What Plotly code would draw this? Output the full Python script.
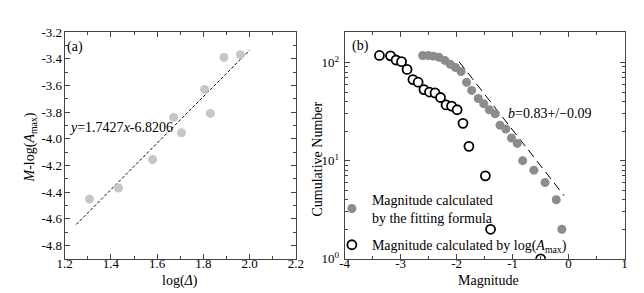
import plotly.graph_objects as go

# Panel (a)
log_delta = [1.307, 1.433, 1.58, 1.671, 1.705, 1.805, 1.83, 1.889, 1.96]
m_log_amax = [-4.452, -4.369, -4.155, -3.84, -3.955, -3.63, -3.81, -3.39, -3.37]
fit_a_x = [1.25, 2.0]
fit_slope, fit_icpt = 1.7427, -6.8206
xa_ticks = [1.2, 1.4, 1.6, 1.8, 2.0, 2.2]
xa_labels = ["1.2", "1.4", "1.6", "1.8", "2.0", "2.2"]
ya_ticks = [-3.2, -3.4, -3.6, -3.8, -4.0, -4.2, -4.4, -4.6, -4.8]
ya_labels = ["-3.2", "-3.4", "-3.6", "-3.8", "-4.0", "-4.2", "-4.4", "-4.6", "-4.8"]

# Panel (b)
mag_fit = [-2.606, -2.507, -2.415, -2.316, -2.21, -2.114, -2.02, -1.92, -1.822, -1.73,
           -1.613, -1.515, -1.416, -1.31, -1.225, -1.12, -1.02, -0.916, -0.82, -0.62,
           -0.42, -0.22, -0.12]
cum_fit = [118, 118, 116, 113, 105, 96, 89, 81, 63, 52, 43, 38, 33, 30, 23, 21, 17, 15,
           10, 8, 6, 4, 2]
mag_amax = [-3.378, -3.18, -3.082, -2.983, -2.885, -2.78, -2.687, -2.583, -2.484, -2.385,
            -2.287, -2.188, -2.09, -1.99, -1.886, -1.78, -1.486, -1.393, -0.498]
cum_amax = [118, 117, 106, 102, 85, 67, 63, 53, 50, 49, 44, 37, 36, 33, 24, 14, 7, 2, 1]
bline_x = [-1.954, -0.08]
bline_y = [101.6, 4.4]
xb_ticks = [-4, -3, -2, -1, 0, 1]
xb_labels = ["-4", "-3", "-2", "-1", "0", "1"]
yb_ticks = [1, 10, 100]
yb_labels = ["10<sup>0</sup>", "10<sup>1</sup>", "10<sup>2</sup>"]

FONT = "Liberation Serif, Times New Roman, DejaVu Serif, serif"
FS = 14
TFS = 13

fig = go.Figure()

fig.add_trace(go.Scatter(x=fit_a_x, y=[fit_slope * v + fit_icpt for v in fit_a_x],
                         mode="lines", line=dict(color="black", width=1, dash="3px,2px"),
                         showlegend=False, xaxis="x", yaxis="y"))
fig.add_trace(go.Scatter(x=log_delta, y=m_log_amax, mode="markers",
                         marker=dict(color="#c6c6c6", size=9), showlegend=False,
                         xaxis="x", yaxis="y"))

fig.add_trace(go.Scatter(x=bline_x, y=bline_y, mode="lines",
                         line=dict(color="black", width=1, dash="9px,5px"),
                         showlegend=False, xaxis="x2", yaxis="y2"))
fig.add_trace(go.Scatter(x=mag_fit, y=cum_fit, mode="markers",
                         marker=dict(color="#8c8c8c", size=9),
                         name="Magnitude calculated<br>by the fitting formula",
                         legendgroup="g1",
                         xaxis="x2", yaxis="y2"))
fig.add_trace(go.Scatter(x=mag_amax, y=cum_amax, mode="markers",
                         marker=dict(color="white", size=9, symbol="circle",
                                     line=dict(color="black", width=1.8)),
                         name="Magnitude calculated by log(<i>A</i><sub>max</sub>)",
                         legendgroup="g2",
                         xaxis="x2", yaxis="y2"))

axis_common = dict(showgrid=False, zeroline=False, showline=True, linecolor="#444",
                   linewidth=1, mirror="allticks", ticks="inside", ticklen=5,
                   tickcolor="#444", tickfont=dict(family=FONT, size=TFS, color="black"))

fig.update_layout(
    width=644, height=293,
    margin=dict(l=0, r=0, t=0, b=0),
    paper_bgcolor="white", plot_bgcolor="white",
    font=dict(family=FONT, size=FS, color="black"),
    xaxis=dict(domain=[0.0776, 0.4457], range=[1.2, 2.2],
               tickvals=xa_ticks, ticktext=xa_labels, ticklabelstandoff=-7,
               minor=dict(ticks="inside", ticklen=3, dtick=0.1, tickcolor="#444"),
               anchor="y", **axis_common),
    yaxis=dict(domain=[0.1229, 0.9386], range=[-4.9, -3.2],
               tickvals=ya_ticks, ticktext=ya_labels, ticklabelstandoff=-1,
               minor=dict(ticks="inside", ticklen=3, dtick=0.1, tick0=-3.2, tickcolor="#444"),
               anchor="x", **axis_common),
    xaxis2=dict(domain=[0.5233, 0.969], range=[-4, 1],
                tickvals=xb_ticks, ticktext=xb_labels, ticklabelstandoff=-7,
                minor=dict(ticks="inside", ticklen=3, dtick=0.5, tick0=-4, tickcolor="#444"),
                anchor="y2", **axis_common),
    yaxis2=dict(domain=[0.1229, 0.9386], type="log", range=[0, 2.31],
                tickvals=yb_ticks, ticktext=yb_labels, ticklabelstandoff=2,
                minor=dict(ticks="inside", ticklen=3, tickcolor="#444",
                           tickvals=[2, 3, 4, 5, 6, 7, 8, 9, 20, 30, 40, 50, 60, 70, 80, 90, 200]),
                anchor="x2", **axis_common),
    legend=dict(x=0.503, y=0.393, xanchor="left", yanchor="top",
                bgcolor="rgba(0,0,0,0)", font=dict(family=FONT, size=FS),
                itemwidth=30, traceorder="grouped", tracegroupgap=6),
    annotations=[
        # axis titles
        dict(text="log(<i>Δ</i>)", x=168 / 644, y=1 - 280 / 293, xref="paper", yref="paper",
             showarrow=False, xanchor="center", yanchor="middle", font=dict(family=FONT, size=FS)),
        dict(text="<i>M</i>-log(<i>A</i><sub>max</sub>)", x=15 / 644, y=1 - 140 / 293,
             xref="paper", yref="paper", textangle=-90, showarrow=False,
             xanchor="center", yanchor="middle", font=dict(family=FONT, size=FS)),
        dict(text="Magnitude", x=485 / 644, y=1 - 280 / 293, xref="paper", yref="paper",
             showarrow=False, xanchor="center", yanchor="middle", font=dict(family=FONT, size=FS)),
        dict(text="Cumulative Number", x=309 / 644, y=1 - 152 / 293,
             xref="paper", yref="paper", textangle=-90, showarrow=False,
             xanchor="center", yanchor="middle", font=dict(family=FONT, size=FS)),
        # in-plot labels
        dict(text="(a)", x=1.245, y=-3.31, xref="x", yref="y", showarrow=False,
             font=dict(family=FONT, size=FS)),
        dict(text="<i>y</i>=1.7427<i>x</i>-6.8206", x=1.445, y=-3.914, xref="x", yref="y",
             showarrow=False, font=dict(family=FONT, size=FS)),
        dict(text="(b)", x=-3.71, y=2.164, xref="x2", yref="y2", showarrow=False,
             font=dict(family=FONT, size=FS)),
        dict(text="<i>b</i>=0.83+/−0.09", x=-0.34, y=1.478, xref="x2", yref="y2",
             showarrow=False, font=dict(family=FONT, size=FS)),
    ],
)

fig.write_html("out.html")
